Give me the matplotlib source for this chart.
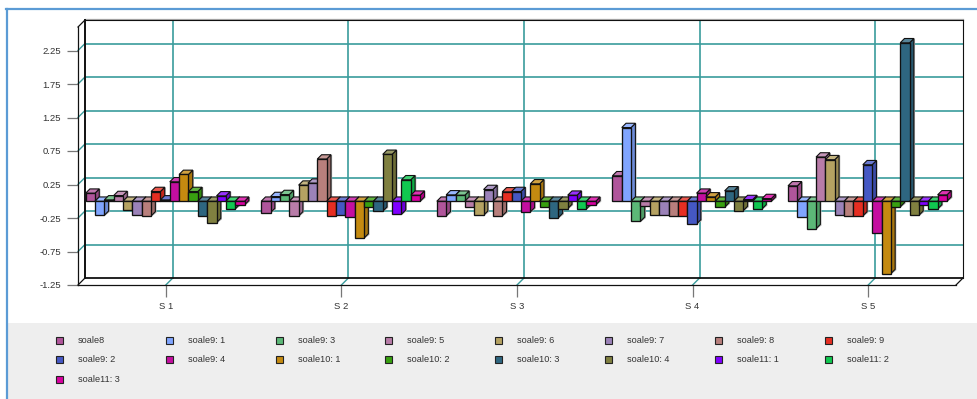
import matplotlib
matplotlib.use("Agg")
import matplotlib.pyplot as plt
from matplotlib.patches import Polygon, Rectangle
from matplotlib.lines import Line2D
from matplotlib.transforms import Affine2D
import matplotlib.colors as mc

categories = ["S 1", "S 2", "S 3", "S 4", "S 5"]
series_names = ["soale8", "soale9: 1", "soale9: 3", "soale9: 5", "soale9: 6", "soale9: 7", "soale9: 8", "soale9: 9",
                "soale9: 2", "soale9: 4", "soale10: 1", "soale10: 2", "soale10: 3", "soale10: 4", "soale11: 1",
                "soale11: 2", "soale11: 3"]
colors = ["#b0559b", "#80a5ff", "#5cb877", "#b87ca8", "#b5a262", "#9b82b8", "#b87f7c", "#e62e22",
          "#4558c4", "#c40ea0", "#c48a10", "#38a010", "#2e6680", "#808040", "#8000ff", "#10c850", "#d800a0"]
s1 = [0.12, -0.21, 0.02, 0.085, -0.13, -0.20, -0.22, 0.145, 0.02, 0.29, 0.40, 0.145, -0.22, -0.32, 0.08, -0.115, -0.055]
s2 = [-0.17, 0.07, 0.10, -0.22, 0.24, 0.27, 0.63, -0.22, -0.20, -0.24, -0.55, -0.085, -0.15, 0.70, -0.195, 0.32, 0.09]
s3 = [-0.22, 0.095, 0.09, -0.09, -0.21, 0.175, -0.22, 0.14, 0.145, -0.16, 0.26, -0.09, -0.245, -0.11, 0.09, -0.115, -0.055]
s4 = [0.38, 1.10, -0.30, -0.07, -0.21, -0.20, -0.22, -0.22, -0.34, 0.12, 0.065, -0.09, 0.155, -0.14, 0.025, -0.115, 0.04]
s5 = [0.23, -0.235, -0.41, 0.66, 0.62, -0.20, -0.22, -0.22, 0.545, -0.48, -1.08, -0.085, 2.365, -0.21, -0.06, -0.115, 0.095]
groups = [s1, s2, s3, s4, s5]
yticks = [-1.25, -0.75, -0.25, 0.25, 0.75, 1.25, 1.75, 2.25]

W, H = 977, 399
plt.rcParams["font.family"] = ["Liberation Sans", "DejaVu Sans"]
fig = plt.figure(figsize=(W / 100, H / 100), dpi=100, facecolor="white")

# outer frame and legend band
BLUE = "#5b9bd5"
fig.add_artist(Rectangle((8 / W, 0), 1 - 8 / W, (H - 323) / H, transform=fig.transFigure, fc="#eeeeee", ec="none"))
fig.add_artist(Line2D([7 / W, 7 / W], [0, 1 - 8.5 / H], color=BLUE, lw=1.6, transform=fig.transFigure))
fig.add_artist(Line2D([6.2 / W, 1], [1 - 8.5 / H] * 2, color=BLUE, lw=1.6, transform=fig.transFigure))

L, R, B, T = 78, 956, 285, 27
ax = fig.add_axes([L / W, (H - B) / H, (R - L) / W, (B - T) / H])
ax.set_xlim(-0.5, 4.5)
ax.set_ylim(-1.25, -1.25 + (B - T) / 67)
ax.patch.set_visible(False)
for sp in ax.spines.values():
    sp.set_visible(False)

unit_x = 5 / (R - L)     # data units per pixel, x
unit_y = 1 / 67          # data units per pixel, y
back = ax.transData + Affine2D().translate(7, 7)
ymin, ymax = ax.get_ylim()
xmin, xmax = ax.get_xlim()
TEAL = "#3a9c9c"

# back wall grid
for v in yticks:
    if v > -1.25:
        ax.plot([xmin, xmax], [v, v], color=TEAL, lw=1.2, transform=back, clip_on=False, zorder=1)
        ax.plot([xmin, xmin + 7 * unit_x], [v, v + 7 * unit_y], color=TEAL, lw=1.0, clip_on=False, zorder=1)
for i in range(len(categories)):
    ax.plot([i, i], [ymin, ymax], color=TEAL, lw=1.2, transform=back, clip_on=False, zorder=1)
    ax.plot([i, i + 7 * unit_x], [ymin, ymin + 7 * unit_y], color=TEAL, lw=1.0, clip_on=False, zorder=1)

# box outline
K = "#111111"
ax.plot([xmin, xmax + 0.4 * unit_x], [ymax + 1 * unit_y] * 2, color="#aaaaaa", lw=0.9, transform=back, clip_on=False, zorder=1.5)
ax.plot([xmin, xmax], [ymin, ymin], color=K, lw=1.3, transform=back, clip_on=False, zorder=2)
ax.plot([xmin, xmax], [ymax, ymax], color=K, lw=0.8, transform=back, clip_on=False, zorder=2)
ax.plot([xmin, xmin], [ymin, ymax], color=K, lw=1.4, transform=back, clip_on=False, zorder=2)
ax.plot([xmax, xmax], [ymin, ymax], color=K, lw=0.8, transform=back, clip_on=False, zorder=2)
ax.plot([xmin, xmax], [ymin, ymin], color=K, lw=0.9, clip_on=False, zorder=2)
ax.plot([xmin, xmin], [ymin, ymax], color=K, lw=0.9, clip_on=False, zorder=2)
ax.plot([xmin, xmin + 7 * unit_x], [ymax, ymax + 7 * unit_y], color=K, lw=0.9, clip_on=False, zorder=2)
ax.plot([xmin, xmin + 7 * unit_x], [ymin, ymin + 7 * unit_y], color=K, lw=0.9, clip_on=False, zorder=2)
ax.plot([xmax, xmax + 7 * unit_x], [ymin, ymin + 7 * unit_y], color=K, lw=0.9, clip_on=False, zorder=2)

# 3D bars
bw = 9.35 * unit_x
start = -0.5 + 7.6 * unit_x
dx, dy = 4.3 * unit_x, 4.3 * unit_y
z = 3.0
for g, vals in enumerate(groups):
    for s, v in enumerate(vals):
        x0 = g + start + s * bw
        x1 = x0 + bw
        lo, hi = min(v, 0), max(v, 0)
        col = colors[s]
        rgb = mc.to_rgb(col)
        light = tuple(c + (1 - c) * 0.2 for c in rgb)
        dark = tuple(c * 0.85 for c in rgb)
        # soft shadow behind the bar
        ax.add_patch(Polygon([(x1, lo - 1 * unit_y), (x1 + dx + 1.2 * unit_x, lo + dy - 1 * unit_y),
                              (x1 + dx + 1.2 * unit_x, hi + dy), (x1, hi)],
                             fc="#b5b5b5", ec="none", zorder=z, clip_on=False))
        ax.add_patch(Polygon([(x1, lo), (x1 + dx, lo + dy), (x1 + dx, hi + dy), (x1, hi)],
                             fc=dark, ec="#111111", lw=0.8, zorder=z + 0.1, clip_on=False))
        ax.add_patch(Polygon([(x0, hi), (x0 + dx, hi + dy), (x1 + dx, hi + dy), (x1, hi)],
                             fc=light, ec="#111111", lw=0.8, zorder=z + 0.1, clip_on=False))
        ax.bar(x0, hi - lo, width=bw, bottom=lo, align="edge", color=col, edgecolor="#111111",
               linewidth=0.95, zorder=z + 0.2, clip_on=False)
        z += 0.5

# axes ticks
ax.set_yticks(yticks)
ax.set_yticklabels([f"{v:.2f}" for v in yticks])
ax.set_xticks(range(len(categories)))
ax.set_xticklabels(categories)
ax.tick_params(axis="y", length=8, width=0.9, color="#777777", pad=4.2, labelsize=6.8, labelcolor="#333333")
ax.tick_params(axis="x", length=8.5, width=0.9, color="#777777", pad=3.6, labelsize=6.8, labelcolor="#333333")

# legend (8 columns, rows filled left to right)
col_x = [56 + 109.8 * i for i in range(8)]
row_y = [340, 359.5, 379.5]
for i, (name, col) in enumerate(zip(series_names, colors)):
    r, c = divmod(i, 8)
    x, y = col_x[c], row_y[r]
    fig.add_artist(Rectangle(((x + 0.8) / W, (H - y - 4.5) / H), 7 / W, 7 / H, transform=fig.transFigure,
                             fc="#bdbdbd", ec="none"))
    fig.add_artist(Rectangle((x / W, (H - y - 3.5) / H), 7 / W, 7 / H, transform=fig.transFigure,
                             fc=col, ec="#222222", lw=0.8))
    fig.text((x + 22) / W, (H - y - 0.3) / H, name, fontsize=6.6, color="#333333", va="center", ha="left")

fig.savefig("out.png", dpi=100, facecolor="white")
